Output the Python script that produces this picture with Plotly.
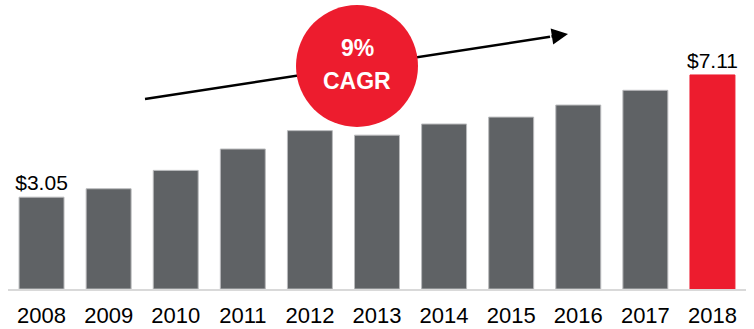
import plotly.graph_objects as go

years = ["2008", "2009", "2010", "2011", "2012", "2013", "2014", "2015", "2016", "2017", "2018"]
values = [3.05, 3.33, 3.94, 4.65, 5.26, 5.11, 5.48, 5.71, 6.11, 6.60, 7.11]
labels = ["$3.05", "", "", "", "", "", "", "", "", "", "$7.11"]
cagr_top = "9%"
cagr_bottom = "CAGR"

GRAY = "#5f6265"
RED = "#ed1c2e"
colors = [GRAY] * (len(years) - 1) + [RED]
edge = ["#b9babc"] * (len(years) - 1) + [RED]

W, H = 754, 329
ML, MR, MT, MB = 8, 8, 0, 40
YMAX = 9.6
pw = W - ML - MR
ph = H - MT - MB


def px_to_x(px):
    return (px - ML) / pw * len(years) - 0.5


def px_to_y(py):
    return (H - MB - py) / ph * YMAX


fig = go.Figure()
fig.add_trace(go.Bar(
    x=years, y=values,
    marker=dict(color=colors, line=dict(color=edge, width=1)),
    text=labels, textposition="outside", cliponaxis=False, constraintext="none",
    textfont=dict(family="Liberation Sans, Arial", size=21, color="#000000"),
    width=0.67, hoverinfo="skip",
))

# arrow line
x0, y0 = px_to_x(145), px_to_y(99)
x1, y1 = px_to_x(568), px_to_y(34)
xh, yh = px_to_x(550), px_to_y(36.8)
fig.add_shape(type="line", xref="x", yref="y", x0=x0, y0=y0, x1=xh, y1=yh,
              line=dict(color="#000000", width=2.5), layer="above")
# circle
cx, cy = px_to_x(357), px_to_y(66)
fig.add_shape(type="circle", xref="x", yref="y", xsizemode="pixel", ysizemode="pixel",
              xanchor=cx, yanchor=cy, x0=-61, x1=61, y0=-61, y1=61,
              fillcolor=RED, line=dict(width=0), layer="above")
# arrow head
fig.add_annotation(x=x1, y=y1, ax=xh, ay=yh, axref="x", ayref="y", xref="x", yref="y",
                   text="", showarrow=True, arrowhead=2, arrowsize=1.3, arrowwidth=2.5,
                   arrowcolor="#000000", standoff=0)
fig.add_annotation(x=cx, y=cy, xref="x", yref="y", text="<b>%s</b>" % cagr_top, showarrow=False,
                   yshift=18, font=dict(family="Liberation Sans, Arial", size=23, color="white"))
fig.add_annotation(x=cx, y=cy, xref="x", yref="y", text="<b>%s</b>" % cagr_bottom, showarrow=False,
                   yshift=-14.5, font=dict(family="Liberation Sans, Arial", size=23, color="white"))

fig.update_layout(
    width=W, height=H, margin=dict(l=ML, r=MR, t=MT, b=MB),
    plot_bgcolor="white", paper_bgcolor="white", showlegend=False,
    xaxis=dict(showline=True, linecolor="#d9d9d9", linewidth=2, showgrid=False,
               ticks="outside", ticklen=6, tickcolor="rgba(0,0,0,0)",
               tickfont=dict(family="Liberation Sans, Arial", size=22, color="#000000"),
               range=[-0.5, len(years) - 0.5], fixedrange=True),
    yaxis=dict(visible=False, range=[0, YMAX], fixedrange=True),
)
fig.write_html("out.html", config={"displayModeBar": False})
